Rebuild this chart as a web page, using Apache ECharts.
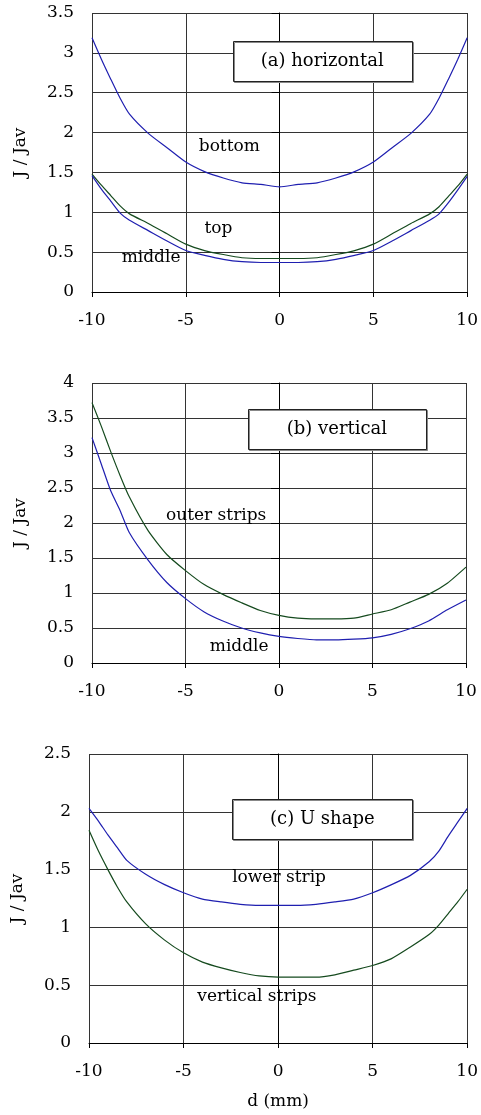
<!DOCTYPE html>
<html>
<head>
<meta charset="utf-8">
<script src="https://cdn.jsdelivr.net/npm/echarts@6/dist/echarts.min.js"></script>
<style>
  html, body { margin: 0; padding: 0; background: #fff; }
  #chart { width: 481px; height: 1115px; }
</style>
</head>
<body>
<div id="chart"></div>
<script>
// x positions (mm)
const xA = [-10, -9.5, -9, -8.5, -8, -7, -6, -5, -4, -3, -2, -1, 0, 1, 2, 3, 4, 5, 6, 7, 8, 8.5, 9, 9.5, 10];
const xB = [-10, -9.5, -9, -8.5, -8, -7, -6, -5, -4, -3, -2, -1, 0, 1, 2, 3, 4, 5, 6, 7, 8, 9, 10];
const xC = [-10, -9.5, -9, -8.5, -8, -7, -6, -5, -4, -3, -2, -1, 0, 1, 2, 3, 4, 5, 6, 7, 8, 8.5, 9, 9.5, 10];

// (a) horizontal
const aBottom = [3.19, 2.92, 2.67, 2.43, 2.23, 1.99, 1.81, 1.63, 1.51, 1.43, 1.37, 1.35, 1.32, 1.35, 1.37, 1.43, 1.51, 1.63, 1.81, 1.99, 2.23, 2.43, 2.67, 2.92, 3.19];
const aTop = [1.48, 1.34, 1.21, 1.08, 0.98, 0.86, 0.73, 0.60, 0.52, 0.47, 0.43, 0.42, 0.42, 0.42, 0.43, 0.47, 0.52, 0.60, 0.73, 0.86, 0.98, 1.07, 1.20, 1.33, 1.48];
const aMiddle = [1.46, 1.29, 1.14, 0.99, 0.90, 0.77, 0.64, 0.52, 0.46, 0.41, 0.38, 0.37, 0.37, 0.37, 0.38, 0.41, 0.46, 0.52, 0.64, 0.77, 0.90, 0.98, 1.12, 1.28, 1.45];

// (b) vertical
const bOuter = [3.72, 3.38, 3.02, 2.68, 2.37, 1.89, 1.55, 1.32, 1.12, 0.98, 0.86, 0.75, 0.68, 0.64, 0.63, 0.63, 0.64, 0.70, 0.76, 0.87, 0.98, 1.14, 1.37];
const bMiddle = [3.22, 2.84, 2.46, 2.18, 1.86, 1.47, 1.15, 0.92, 0.73, 0.60, 0.50, 0.43, 0.38, 0.35, 0.33, 0.33, 0.34, 0.36, 0.41, 0.49, 0.60, 0.76, 0.90];

// (c) U shape
const cLower = [2.03, 1.92, 1.80, 1.69, 1.58, 1.46, 1.37, 1.30, 1.245, 1.22, 1.20, 1.19, 1.19, 1.19, 1.20, 1.22, 1.245, 1.30, 1.37, 1.45, 1.57, 1.66, 1.79, 1.91, 2.03];
const cVertical = [1.84, 1.66, 1.50, 1.35, 1.22, 1.03, 0.89, 0.78, 0.70, 0.65, 0.61, 0.58, 0.57, 0.57, 0.57, 0.59, 0.63, 0.67, 0.73, 0.83, 0.94, 1.02, 1.12, 1.22, 1.33];

// y axis ranges per panel
const yMax = [3.5, 4, 2.5];

// curve labels: [panel, x, y, text]
const notes = [
  [0, -2.68, 1.82, 'bottom'],
  [0, -3.26, 0.80, 'top'],
  [0, -6.85, 0.43, 'middle'],
  [1, -3.36, 2.11, 'outer strips'],
  [1, -2.13, 0.23, 'middle'],
  [2, 0.05, 1.43, 'lower strip'],
  [2, -1.12, 0.40, 'vertical strips']
];

const titles = ['(a) horizontal', '(b) vertical', '(c) U shape'];

const FONT = 'DejaVu Serif';
const BLUE = '#1f1fb0';
const GREEN = '#154a1e';

const grids = [
  { left: 92, right: 13, top: 13, height: 279 },
  { left: 92, right: 15, top: 383, height: 280 },
  { left: 89, right: 13, top: 754, height: 289 }
];

const pair = (xs, ys) => xs.map((x, i) => [x, ys[i]]);

const xAxes = grids.map((g, i) => ({
  type: 'value',
  gridIndex: i,
  min: -10,
  max: 10,
  interval: 5,
  name: i === 2 ? 'd (mm)' : '',
  nameLocation: 'middle',
  nameGap: 50,
  nameTextStyle: { color: '#000', fontSize: 17, fontFamily: FONT },
  axisLine: { onZero: false, lineStyle: { color: '#000', width: 1 } },
  axisTick: { show: true, length: 5, lineStyle: { color: '#000' } },
  axisLabel: { color: '#000', fontSize: 17, fontFamily: FONT, margin: 20 },
  splitLine: { show: true, lineStyle: { color: '#333', width: 1 } }
}));

const yAxes = grids.map((g, i) => ({
  type: 'value',
  gridIndex: i,
  min: 0,
  max: yMax[i],
  interval: 0.5,
  name: 'J / Jav',
  nameLocation: 'middle',
  nameGap: 63,
  nameTextStyle: { color: '#000', fontSize: 17, fontFamily: FONT },
  axisLine: { show: true, lineStyle: { color: '#000', width: 1 } },
  axisTick: { show: true, length: 8, lineStyle: { color: '#000' } },
  axisLabel: { color: '#000', fontSize: 17, fontFamily: FONT, margin: 18 },
  splitLine: { show: true, lineStyle: { color: '#333', width: 1 } }
}));

const line = (idx, data, color) => ({
  type: 'line',
  xAxisIndex: idx,
  yAxisIndex: idx,
  data: data,
  showSymbol: false,
  lineStyle: { color: color, width: 1.2 },
  itemStyle: { color: color },
  smooth: 0.2,
  z: 3
});

const chart = echarts.init(document.getElementById('chart'));
chart.setOption({
  animation: false,
  textStyle: { fontFamily: FONT },
  grid: grids,
  xAxis: xAxes,
  yAxis: yAxes,
  series: [
    line(0, pair(xA, aBottom), BLUE),
    line(0, pair(xA, aTop), GREEN),
    line(0, pair(xA, aMiddle), BLUE),
    line(1, pair(xB, bOuter), GREEN),
    line(1, pair(xB, bMiddle), BLUE),
    line(2, pair(xC, cLower), BLUE),
    line(2, pair(xC, cVertical), GREEN)
  ]
});

// title boxes (top-left corner in data units) and curve labels
const boxes = [
  { x: -2.5, y: 3.15, w: 179, h: 40 },
  { x: -1.66, y: 3.63, w: 178, h: 40 },
  { x: -2.42, y: 2.11, w: 180, h: 40 }
];

const graphic = [];
boxes.forEach((b, i) => {
  const p = chart.convertToPixel({ gridIndex: i }, [b.x, b.y]);
  graphic.push({
    type: 'rect',
    shape: { x: Math.round(p[0]) + 0.5, y: Math.round(p[1]) + 0.5, width: b.w, height: b.h },
    style: { fill: '#fff', stroke: '#222', lineWidth: 1, shadowColor: '#888', shadowOffsetX: 1, shadowOffsetY: 1 },
    z: 10
  });
  graphic.push({
    type: 'text',
    x: p[0] + b.w / 2,
    y: p[1] + b.h / 2,
    style: { text: titles[i], fill: '#000', font: '18px "' + FONT + '"', align: 'center', verticalAlign: 'middle' },
    z: 11
  });
});

notes.forEach(n => {
  const p = chart.convertToPixel({ gridIndex: n[0] }, [n[1], n[2]]);
  graphic.push({
    type: 'text',
    x: p[0],
    y: p[1],
    style: { text: n[3], fill: '#000', font: '17px "' + FONT + '"', align: 'center', verticalAlign: 'middle' },
    z: 11
  });
});

chart.setOption({ graphic: graphic });
</script>
</body>
</html>
